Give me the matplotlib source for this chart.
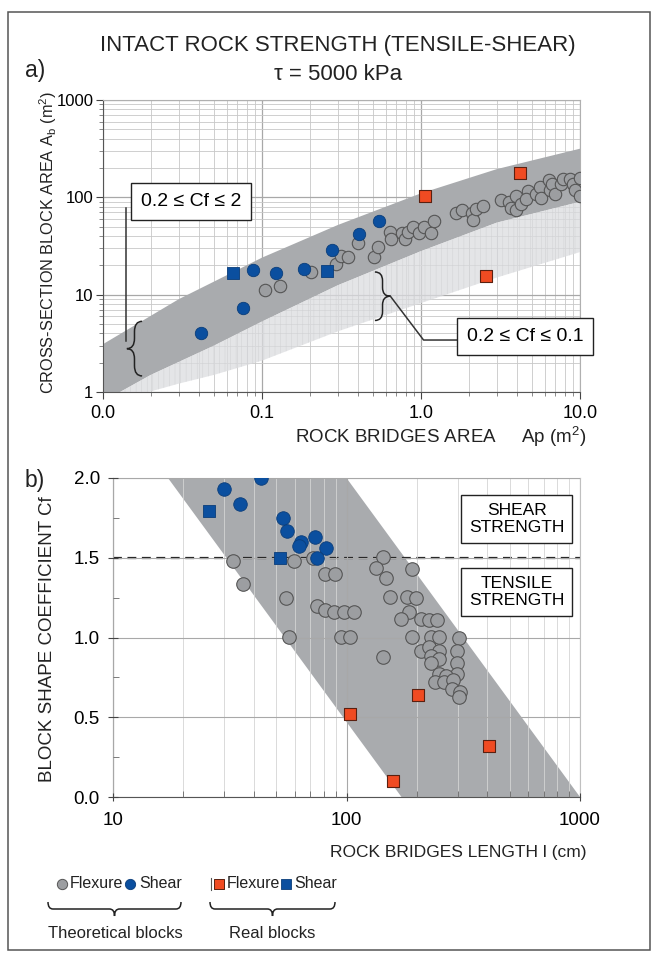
import numpy as np
import matplotlib
matplotlib.use('Agg')
import matplotlib.pyplot as plt
from matplotlib.path import Path
from matplotlib.patches import PathPatch, Rectangle
from matplotlib.ticker import FixedLocator, NullFormatter, LogLocator

plt.rcParams['font.family'] = ['Liberation Sans', 'DejaVu Sans']
plt.rcParams['mathtext.fontset'] = 'custom'
plt.rcParams['mathtext.rm'] = 'Liberation Sans'
plt.rcParams['hatch.linewidth'] = 0.4

# ---- a) datos: area de puentes de roca Ap vs area de bloque Ab ----
a_flex_x = [0.1045, 0.13, 0.203, 0.293, 0.315, 0.346, 0.40, 0.507, 0.539, 0.641, 0.65,
            0.759, 0.791, 0.833, 0.894, 0.968, 1.05, 1.15, 1.21, 1.66, 1.82, 2.09, 2.13,
            2.22, 2.47, 3.17, 3.6, 3.69, 3.97, 3.93, 4.27, 4.7, 4.59, 5.3, 5.57, 5.71,
            6.36, 6.45, 6.66, 6.92, 7.63, 7.82, 8.6, 9.0, 9.25, 9.94, 9.94]
a_flex_y = [11.1, 12.4, 17.1, 20.6, 25.1, 24.5, 33.7, 24.5, 31, 43.8, 37.3,
            42.8, 37.3, 44.5, 50.1, 42.8, 50.1, 42.8, 57.8, 68.9, 74.5, 68.9, 58.8,
            76.4, 80.7, 94.6, 89.5, 78.3, 102, 73.5, 86, 116, 97, 109, 128, 99,
            150, 118, 136, 107, 136, 155, 155, 136, 118, 159, 102]
a_shear_x = [0.0413, 0.0762, 0.088, 0.122, 0.184, 0.275, 0.405, 0.547]
a_shear_y = [4.07, 7.35, 17.8, 16.8, 18.2, 29, 42, 57]
a_real_shear_x = [0.0654, 0.255]
a_real_shear_y = [16.8, 17.7]
a_real_flex_x = [1.065, 4.2, 2.57]
a_real_flex_y = [102, 179, 15.5]

# bordes de las bandas
band_up_x = [0.01, 0.03, 0.1, 0.3, 1, 3, 10]
band_up_y = [3.1, 9, 24, 52, 110, 195, 316]
band_mid_x = [0.0128, 0.02, 0.05, 0.1, 0.3, 1, 3, 10]
band_mid_y = [1, 1.5, 3.0, 5.3, 12.5, 28, 55, 90]
band_low_x = [0.0194, 0.03, 0.05, 0.1, 0.3, 1, 3, 10]
band_low_y = [1, 1.22, 1.5, 2.1, 4.2, 8.2, 15, 27.4]

# ---- b) datos: longitud de puentes l vs coeficiente de forma Cf ----
b_flex_x = [32.8, 36.2, 55.2, 56.9, 59.8, 71.9, 81.0, 89.7, 74.8, 80.6, 88.7, 98, 107.5,
            94.8, 104, 143, 133.6, 147.5, 153.5, 144, 190.5, 182, 199, 185, 172, 208,
            225, 245, 191, 229, 248, 303, 208, 226, 250, 231, 249, 229, 296, 296, 296,
            248, 268, 239, 262, 287, 283, 306, 303]
b_flex_y = [1.48, 1.333, 1.246, 1.005, 1.478, 1.50, 1.40, 1.40, 1.20, 1.17, 1.16, 1.16, 1.16,
            1.005, 1.005, 1.507, 1.436, 1.371, 1.256, 0.878, 1.43, 1.256, 1.25, 1.158, 1.116, 1.116,
            1.11, 1.11, 1.005, 1.005, 1.005, 0.997, 0.915, 0.94, 0.915, 0.883, 0.8625, 0.8375, 0.915,
            0.8375, 0.769, 0.769, 0.758, 0.719, 0.719, 0.733, 0.675, 0.66, 0.625]
b_shear_x = [43.2, 29.9, 35.1, 53.4, 55.8, 63.9, 62.8, 73.1, 81.3, 74.8]
b_shear_y = [2.0, 1.93, 1.835, 1.75, 1.67, 1.60, 1.574, 1.63, 1.56, 1.50]
b_real_shear_x = [25.8, 51.8]
b_real_shear_y = [1.79, 1.50]
b_real_flex_x = [103.3, 203, 158, 409]
b_real_flex_y = [0.518, 0.64, 0.102, 0.32]
b_band_x = [17.2, 100, 1000, 172]
b_band_y = [2, 2, 0, 0]

C_GRAY = '#9c9ea1'
C_BLUE = '#0b4f9f'
C_RED = '#f04b22'
C_BAND = '#a9abae'
C_GRID = '#c8c8c8'


def brace(ax, tr, p0, p1, depth, r, vertical=True, sign=1, lw=1.1):
    # llave curva entre p0 y p1, con la punta hacia "sign"
    if vertical:
        x, y0, y1 = p0[0], p0[1], p1[1]
        h = depth / 2.0
        ym = (y0 + y1) / 2.0
        xs = x + sign * h
        xt = x + sign * depth
        verts = [(x, y1), (xs, y1), (xs, y1 - r), (xs, ym + r), (xs, ym), (xt, ym),
                 (xs, ym), (xs, ym - r), (xs, y0 + r), (xs, y0), (x, y0)]
    else:
        y, x0, x1 = p0[1], p0[0], p1[0]
        h = depth / 2.0
        xm = (x0 + x1) / 2.0
        ys = y - sign * h
        yt = y - sign * depth
        verts = [(x0, y), (x0, ys), (x0 + r, ys), (xm - r, ys), (xm, ys), (xm, yt),
                 (xm, ys), (xm + r, ys), (x1 - r, ys), (x1, ys), (x1, y)]
    codes = [Path.MOVETO, Path.CURVE3, Path.CURVE3, Path.LINETO, Path.CURVE3, Path.CURVE3,
             Path.CURVE3, Path.CURVE3, Path.LINETO, Path.CURVE3, Path.CURVE3]
    ax.add_patch(PathPatch(Path(verts, codes), fill=False, lw=lw, ec='#222222',
                           transform=tr, clip_on=False, zorder=6))


fig = plt.figure(figsize=(6.55, 9.58), dpi=100)
ax1 = fig.add_axes([103 / 655, 1 - 392 / 958, 477 / 655, 292 / 958])
ax2 = fig.add_axes([113 / 655, 1 - 797 / 958, 467 / 655, 319 / 958])

# ---------------- a) ----------------
ax1.set_xscale('log')
ax1.set_yscale('log')
ax1.set_xlim(0.01, 10)
ax1.set_ylim(1, 1000)
ax1.set_axisbelow(True)
ax1.grid(which='major', color='#a8a8a8', lw=0.9)
ax1.grid(which='minor', color=C_GRID, lw=0.6)

dark_x = [0.01] + band_up_x + band_mid_x[::-1]
dark_y = [1] + band_up_y + band_mid_y[::-1]
ax1.fill(dark_x, dark_y, color=C_BAND, lw=0, zorder=1)
light_x = band_mid_x + band_low_x[::-1]
light_y = band_mid_y + band_low_y[::-1]
ax1.fill(light_x, light_y, facecolor='#dcdde0', edgecolor='#cdced1', hatch='|||',
         lw=0, alpha=0.75, zorder=1)

ax1.scatter(a_flex_x, a_flex_y, s=80, c=C_GRAY, edgecolors='#555555', linewidths=0.8, zorder=3)
ax1.scatter(a_shear_x, a_shear_y, s=80, c=C_BLUE, edgecolors='#0a3d7a', linewidths=0.6, zorder=4)
ax1.scatter(a_real_shear_x, a_real_shear_y, s=72, marker='s', c=C_BLUE, edgecolors='#0a3d7a',
            linewidths=0.6, zorder=4)
ax1.scatter(a_real_flex_x, a_real_flex_y, s=72, marker='s', c=C_RED, edgecolors='#5a2010',
            linewidths=0.8, zorder=4)

ax1.set_xticks([0.01, 0.1, 1, 10], ['0.0', '0.1', '1.0', '10.0'])
ax1.set_yticks([1, 10, 100, 1000], ['1', '10', '100', '1000'])
ax1.xaxis.set_minor_locator(LogLocator(base=10, subs=np.arange(2, 10)))
ax1.yaxis.set_minor_locator(LogLocator(base=10, subs=np.arange(2, 10)))
ax1.xaxis.set_minor_formatter(NullFormatter())
ax1.yaxis.set_minor_formatter(NullFormatter())
ax1.tick_params(axis='x', which='major', labelsize=13, length=5, color='#444444', pad=4)
ax1.tick_params(axis='y', which='major', labelsize=12, length=5, color='#444444', pad=2)
ax1.tick_params(which='minor', length=3, color='#777777')
for sp in ('top', 'right'):
    ax1.spines[sp].set_color('#b0b0b0')
for sp in ('left', 'bottom'):
    ax1.spines[sp].set_color('#555555')

ta = ax1.transAxes
box_kw = dict(boxstyle='square,pad=0.5', fc='white', ec='#222222', lw=1)
ax1.text(0.185, 0.652, '0.2 \u2264 Cf \u2264 2', transform=ta, fontsize=14, ha='center',
         va='center', zorder=7, bbox=box_kw)
ax1.plot([0.048, 0.048], [0.175, 0.63], transform=ta, color='#333333', lw=1.1, zorder=6)
brace(ax1, ta, (0.082, 0.055), (0.082, 0.242), 0.032, 0.035, vertical=True, sign=-1)
brace(ax1, ta, (0.57, 0.245), (0.57, 0.411), 0.032, 0.03, vertical=True, sign=1)
ax1.plot([0.602, 0.672, 0.78], [0.329, 0.178, 0.178], transform=ta, color='#333333',
         lw=1.1, zorder=6)
ax1.text(0.885, 0.19, '0.2 \u2264 Cf \u2264 0.1', transform=ta, fontsize=14, ha='center',
         va='center', zorder=7, bbox=box_kw)

# ---------------- b) ----------------
ax2.set_xscale('log')
ax2.set_xlim(10, 1000)
ax2.set_ylim(0, 2)
ax2.fill(b_band_x, b_band_y, color=C_BAND, lw=0, zorder=1)
ax2.grid(which='major', axis='both', color='#a8a8a8', lw=0.8, zorder=1.5)
ax2.grid(which='minor', axis='x', color='#d4d4d4', lw=0.6, zorder=1.5)
ax2.set_axisbelow(False)
ax2.axhline(1.5, color='#222222', lw=1.6, ls=(0, (4, 2.5)), zorder=2)

ax2.scatter(b_flex_x, b_flex_y, s=95, c=C_GRAY, edgecolors='#555555', linewidths=0.8, zorder=3)
ax2.scatter(b_shear_x, b_shear_y, s=95, c=C_BLUE, edgecolors='#0a3d7a', linewidths=0.6, zorder=4)
ax2.scatter(b_real_shear_x, b_real_shear_y, s=85, marker='s', c=C_BLUE, edgecolors='#0a3d7a',
            linewidths=0.6, zorder=4)
ax2.scatter(b_real_flex_x, b_real_flex_y, s=85, marker='s', c=C_RED, edgecolors='#5a2010',
            linewidths=0.8, zorder=4)

ax2.set_xticks([10, 100, 1000], ['10', '100', '1000'])
ax2.xaxis.set_minor_locator(LogLocator(base=10, subs=np.arange(2, 10)))
ax2.xaxis.set_minor_formatter(NullFormatter())
ax2.set_yticks([0, 0.5, 1.0, 1.5, 2.0], ['0.0', '0.5', '1.0', '1.5', '2.0'])
ax2.yaxis.set_minor_locator(FixedLocator([0.25, 0.75, 1.25, 1.75]))
ax2.tick_params(axis='x', which='major', direction='inout', labelsize=13.5, length=6,
                color='#444444', pad=8)
ax2.tick_params(axis='x', which='minor', direction='in', length=4, color='#666666')
ax2.tick_params(axis='y', which='major', direction='inout', labelsize=13.5, length=7,
                color='#444444', pad=6)
ax2.tick_params(axis='y', which='minor', direction='in', length=4, color='#666666')
for sp in ('top', 'right'):
    ax2.spines[sp].set_color('#c0c0c0')
for sp in ('left', 'bottom'):
    ax2.spines[sp].set_color('#555555')

tb = ax2.transAxes
ax2.text(0.865, 0.871, 'SHEAR\nSTRENGTH', transform=tb, fontsize=12.5, ha='center', va='center',
         linespacing=1.15, zorder=7,
         bbox=dict(boxstyle='square,pad=0.45', fc='white', ec='#222222', lw=1))
ax2.text(0.865, 0.642, 'TENSILE\nSTRENGTH', transform=tb, fontsize=12.5, ha='center',
         va='center', linespacing=1.15, zorder=7,
         bbox=dict(boxstyle='square,pad=0.45', fc='white', ec='#222222', lw=1))

# ---------------- textos de figura ----------------
fig.text(338 / 655, 1 - 45 / 958, 'INTACT ROCK STRENGTH (TENSILE-SHEAR)', fontsize=16,
         ha='center', va='center', color='#222222')
fig.text(338 / 655, 1 - 74 / 958, '\u03c4 = 5000 kPa', fontsize=16, ha='center', va='center',
         color='#222222')
fig.text(25 / 655, 1 - 70 / 958, 'a)', fontsize=16.5, ha='left', va='center', color='#222222')
fig.text(25 / 655, 1 - 480 / 958, 'b)', fontsize=16.5, ha='left', va='center', color='#222222')
fig.text(586 / 655, 1 - 437 / 958, r'ROCK BRIDGES AREA     Ap (m$^2$)', fontsize=13.5,
         ha='right', va='center', color='#222222')
fig.text(586 / 655, 1 - 852 / 958, 'ROCK BRIDGES LENGTH l (cm)', fontsize=12.5,
         ha='right', va='center', color='#222222')
fig.text(48 / 655, 1 - 243 / 958, r'CROSS-SECTION BLOCK AREA A$_\mathregular{b}$ (m$^2$)',
         fontsize=11.7, rotation=90, ha='center', va='center', color='#222222')
fig.text(48 / 655, 1 - 639 / 958, 'BLOCK SHAPE COEFFICIENT Cf', fontsize=13.5, rotation=90,
         ha='center', va='center', color='#222222')

# ---------------- leyenda y marco ----------------
axf = fig.add_axes([0, 0, 1, 1], zorder=-1)
axf.set_xlim(0, 1)
axf.set_ylim(0, 1)
axf.axis('off')
axf.add_patch(Rectangle((8 / 655, 1 - 950 / 958), 642 / 655, 938 / 958, fill=False,
                        ec='#555555', lw=1.1))

axl = fig.add_axes([0, 0, 1, 1], zorder=5)
axl.set_xlim(0, 655)
axl.set_ylim(958, 0)
axl.axis('off')
ly = 884
axl.scatter([62], [ly], s=55, c=C_GRAY, edgecolors='#555555', linewidths=0.7)
axl.text(70, ly, 'Flexure', fontsize=11.5, va='center', ha='left', color='#222222')
axl.scatter([130], [ly], s=55, c=C_BLUE, edgecolors='#0a3d7a', linewidths=0.6)
axl.text(139, ly, 'Shear', fontsize=11.5, va='center', ha='left', color='#222222')
axl.plot([211, 211], [ly - 6, ly + 6], color='#555555', lw=0.8)
axl.scatter([219], [ly], s=50, marker='s', c=C_RED, edgecolors='#5a2010', linewidths=0.7)
axl.text(227, ly, 'Flexure', fontsize=11.5, va='center', ha='left', color='#222222')
axl.scatter([286], [ly], s=50, marker='s', c=C_BLUE, edgecolors='#0a3d7a', linewidths=0.6)
axl.text(294, ly, 'Shear', fontsize=11.5, va='center', ha='left', color='#222222')
brace(axl, axl.transData, (48, 902), (181, 902), -14, 5, vertical=False, sign=1)
brace(axl, axl.transData, (210, 902), (335, 902), -14, 5, vertical=False, sign=1)
axl.text(115, 933, 'Theoretical blocks', fontsize=12, ha='center', va='center',
         color='#222222')
axl.text(272, 933, 'Real blocks', fontsize=12, ha='center', va='center', color='#222222')

fig.savefig('out.png', dpi=100)
